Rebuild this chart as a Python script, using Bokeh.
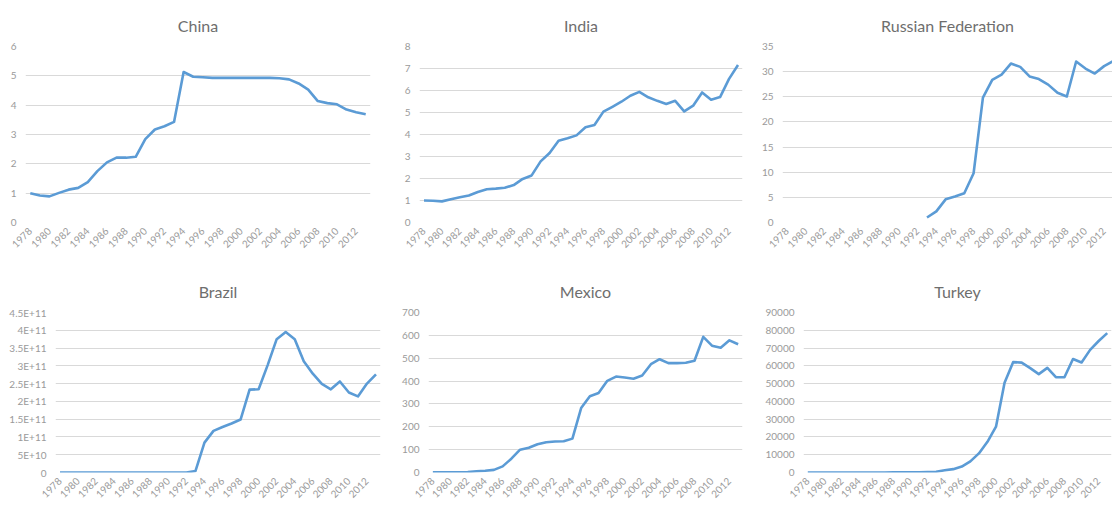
import math
from bokeh.plotting import figure
from bokeh.layouts import column, row
from bokeh.models import FixedTicker, ColumnDataSource
from bokeh.embed import file_html
from bokeh.resources import INLINE

years = list(range(1978, 2014))
nan = float("nan")

china = [1.00, 0.92, 0.89, 1.01, 1.12, 1.18, 1.38, 1.75, 2.05, 2.21, 2.21, 2.24,
         2.84, 3.17, 3.28, 3.43, 5.13, 4.97, 4.95, 4.93, 4.93, 4.93, 4.93, 4.93,
         4.93, 4.93, 4.92, 4.88, 4.74, 4.53, 4.14, 4.07, 4.03, 3.85, 3.76, 3.69]
india = [1.00, 0.99, 0.96, 1.06, 1.15, 1.23, 1.39, 1.51, 1.54, 1.58, 1.70, 1.98,
         2.14, 2.78, 3.16, 3.72, 3.83, 3.96, 4.33, 4.43, 5.04, 5.26, 5.49, 5.76,
         5.94, 5.69, 5.53, 5.39, 5.53, 5.05, 5.31, 5.91, 5.58, 5.70, 6.53, 7.16]
russia = [nan] * 15 + [1.00, 2.21, 4.60, 5.16, 5.83, 9.79, 24.83, 28.37, 29.42,
                       31.61, 30.95, 29.05, 28.52, 27.42, 25.79, 25.06, 32.01,
                       30.62, 29.62, 31.10, 32.11]
brazil = [1.0, 1.6, 3.4, 6.7, 12.9, 37.5, 124.0, 420.0, 1380.0, 3550.0, 2.6e4,
          3.6e5, 3.2e6, 1.9e7, 2.1e8, 4.1e9, 0.84e11, 1.17e11, 1.28e11, 1.38e11,
          1.49e11, 2.33e11, 2.34e11, 3.02e11, 3.75e11, 3.95e11, 3.75e11, 3.13e11,
          2.78e11, 2.49e11, 2.34e11, 2.56e11, 2.25e11, 2.14e11, 2.50e11, 2.76e11]
mexico = [1.0, 1.0, 1.01, 1.08, 2.48, 5.27, 7.37, 11.3, 26.9, 60.5, 99.8, 108.1,
          123.5, 132.5, 135.9, 136.8, 148.2, 281.9, 333.7, 347.7, 401.2, 419.8,
          415.3, 410.3, 424.1, 473.8, 495.6, 478.6, 478.7, 479.9, 488.8, 593.5,
          555.0, 545.6, 578.3, 560.9]
turkey = [1.0, 1.28, 3.13, 4.58, 6.7, 9.29, 15.1, 21.5, 27.8, 35.3, 58.6, 87.4,
          107.0, 172.0, 283.0, 452.0, 1220.0, 1888.0, 3353.0, 6255.0, 10738.0,
          17248.0, 25750.0, 50477.0, 62076.0, 61816.0, 58711.0, 55338.0, 58834.0,
          53661.0, 53604.0, 63839.0, 61895.0, 68987.0, 73970.0, 78418.0]

titles = ["China", "India", "Russian Federation", "Brazil", "Mexico", "Turkey"]
year_ticks = list(range(1978, 2013, 2))

brazil_labels = ["0", "5E+10", "1E+11", "1.5E+11", "2E+11", "2.5E+11", "3E+11",
                 "3.5E+11", "4E+11", "4.5E+11"]

FONT = "Lato"
LINE = "#5B9BD5"
GRID = "#d9d9d9"
TICKC = "#9a9a9a"
TITLEC = "#6e6e6e"


def make(title, values, ymax, ystep, w, h, bl, bt, br, bb, xend=2013.5,
         labels=None):
    p = figure(width=w, height=h, output_backend="svg", toolbar_location=None,
               x_range=(1977.5, xend), y_range=(0, ymax),
               min_border_left=bl, min_border_top=bt, min_border_right=br,
               min_border_bottom=bb, title=title)
    p.title.align = "center"
    p.title.text_font = FONT
    p.title.text_font_size = "16px"
    p.title.text_font_style = "normal"
    p.title.text_color = TITLEC
    p.title.standoff = 24
    p.outline_line_color = None
    p.background_fill_color = "white"
    p.border_fill_color = "white"
    src = ColumnDataSource(dict(x=years, y=values))
    p.line("x", "y", source=src, line_color=LINE, line_width=2.6,
           line_join="round")
    ticks = [i * ystep for i in range(int(round(ymax / ystep)) + 1)]
    p.yaxis.ticker = FixedTicker(ticks=ticks)
    if labels is not None:
        p.yaxis.major_label_overrides = {t: l for t, l in zip(ticks, labels)}
    p.xaxis.ticker = FixedTicker(ticks=year_ticks)
    p.xaxis.major_label_orientation = math.pi / 4
    for ax in (p.xaxis[0], p.yaxis[0]):
        ax.axis_line_color = None
        ax.major_tick_line_color = None
        ax.minor_tick_line_color = None
        ax.major_tick_out = 0
        ax.major_tick_in = 0
        ax.minor_tick_out = 0
        ax.minor_tick_in = 0
        ax.major_label_text_font = FONT
        ax.major_label_text_font_size = "10px"
        ax.major_label_text_color = TICKC
    p.yaxis.major_label_standoff = 9
    p.xaxis.major_label_standoff = 7
    p.xgrid.grid_line_color = None
    p.ygrid.grid_line_color = GRID
    p.ygrid.grid_line_width = 1.2
    p.ygrid.ticker = FixedTicker(ticks=ticks)
    return p


p1 = make(titles[0], china, 6, 1, 372, 253, 25, 46, 2, 31)
p2 = make(titles[1], india, 8, 1, 372, 253, 47, 46, 2, 31)
p3 = make(titles[2], russia, 35, 5, 368, 253, 38, 46, 0, 31, xend=2012.9)
p4 = make(titles[3], brazil, 4.5e11, 5e10, 382, 253, 55, 59, 2, 34,
          labels=brazil_labels)
p5 = make(titles[4], mexico, 700, 100, 362, 253, 46, 59, 2, 34)
p6 = make(titles[5], turkey, 90000, 10000, 368, 253, 59, 59, 1, 34)

layout = column(row(p1, p2, p3), row(p4, p5, p6))
open("out.html", "w").write(file_html(layout, INLINE))
